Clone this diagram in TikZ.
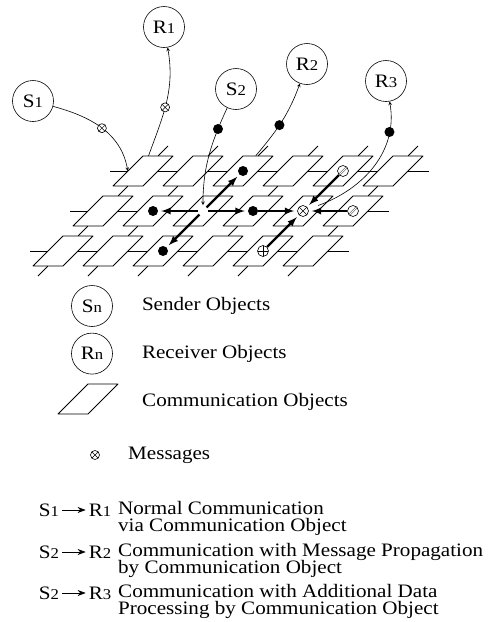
\documentclass[tikz,border=0pt]{standalone}
\usepackage{fontspec}
\setmainfont{Liberation Serif}[FakeStretch=1.11]
\usetikzlibrary{arrows.meta,positioning}
\newcommand{\low}[1]{{\fontsize{15pt}{15pt}\selectfont #1}}

\begin{document}
\begin{tikzpicture}[x=1pt,y=1pt]
\tikzstyle{obj}=[circle, minimum size = 41pt, inner sep=0pt, semithick, draw =black, font=\fontsize{19pt}{19pt}\selectfont]
\tikzstyle{co}=[rectangle, minimum size=30pt, inner sep=0pt]
\tikzstyle{plate}=[thick, line join=round]
\tikzstyle{link}=[thick]
\tikzstyle{msg}=[-stealth, semithick]
\tikzstyle{legarrow}=[-{Stealth[length=8pt, width=6pt]}, semithick, shorten <=2pt, shorten >=2pt]
\tikzstyle{prop}=[-latex, line width=2.2pt, shorten >=3pt]
\tikzstyle{dot}=[circle, fill=black, inner sep=0pt, minimum size=10pt]
\tikzstyle{msgx}=[circle, draw, semithick, fill=white, inner sep=0pt, minimum size=9pt, path picture={\draw[thin] (path picture bounding box.north west) -- (path picture bounding box.south east) (path picture bounding box.north east) -- (path picture bounding box.south west);}]
\tikzstyle{msgplus}=[circle, draw, semithick, fill=white, inner sep=0pt, minimum size=11pt, path picture={\draw[thin] (path picture bounding box.north) -- (path picture bounding box.south) (path picture bounding box.east) -- (path picture bounding box.west);}]
\tikzstyle{msgbar}=[circle, draw, semithick, fill=white, inner sep=0pt, minimum size=11pt, path picture={\draw[thin, double, double distance=1.3pt] (path picture bounding box.south west) -- (path picture bounding box.north east);}]
\tikzstyle{legend}=[anchor=west, align=left, inner sep=0pt, font=\fontsize{19pt}{17.5pt}\selectfont]
\tikzstyle{lab}=[inner sep=1pt, font=\fontsize{19pt}{19pt}\selectfont]
\useasboundingbox (0,0) rectangle (498,-622);

  % communication objects
  \foreach \r in {0,1,2}
    \foreach \c in {0,...,5} {
      \node[co] (co-\r-\c) at (143+50*\c-40*\r, -171-40*\r) {};
      \draw[plate] ([shift={(0,15)}]co-\r-\c.center) -- ++(30,0) -- ++(-30,-30) -- ++(-30,0) -- cycle;
    }
  \foreach \r in {0,1,2} {
    \foreach \c [evaluate=\c as \n using int(\c+1)] in {0,...,4}
      \draw[link] (co-\r-\c) -- (co-\r-\n);
    \draw[link] (co-\r-0) -- ++(-33,0);
    \draw[link] (co-\r-5) -- ++(36,0);
  }
  \foreach \c in {0,...,5} {
    \draw[link] (co-0-\c) -- (co-1-\c);
    \draw[link] (co-1-\c) -- (co-2-\c);
    \draw[link] (co-0-\c) -- ++(25,25);
    \draw[link] (co-2-\c) -- ++(-25,-25);
  }

  % senders and receivers
  \node[obj] (S1) at (33,-101) {S\low{1}};
  \node[obj] (R1) at (164,-27) {R\low{1}};
  \node[obj] (S2) at (236,-89) {S\low{2}};
  \node[obj] (R2) at (307,-64) {R\low{2}};
  \node[obj] (R3) at (386,-81) {R\low{3}};

  \draw[msg] (S1) to[out=-15, in=100] node[msgx, pos=0.5] (m1) {} (co-0-0.west);
  \draw[msg] (co-0-0) to[out=70, in=-80] node[msgx, pos=0.45] (m2) {} (R1);
  \draw[msg, shorten >=6pt] (S2) to[out=-115, in=90] node[dot, pos=0.2] (m3) {} (co-1-2.center);
  \draw[msg] (co-0-2) to[out=50, in=-110] node[dot, pos=0.45] (m4) {} (R2);
  \draw[msg] (co-1-4) to[out=20, in=-80] node[dot, pos=0.78] (m5) {} (R3);

  % propagation and processing
  \node[dot] (d-l) at (co-1-1) {};
  \node[dot] (d-r) at (co-1-3) {};
  \node[dot] (d-u) at (co-0-2) {};
  \node[dot] (d-d) at (co-2-2) {};
  \node[msgx, minimum size=11pt] (p-x) at (co-1-4) {};
  \node[msgplus] (p-plus) at (co-2-4) {};
  \node[msgbar] (p-ur) at (co-0-4) {};
  \node[msgbar] (p-r) at (co-1-5) {};
  \path (co-1-2.center) edge [prop, shorten <=5pt] (d-l)
        (co-1-2.center) edge [prop, shorten <=5pt] (d-r)
        (co-1-2.center) edge [prop, shorten <=5pt] (d-u)
        (co-1-2.center) edge [prop, shorten <=5pt] (d-d)
        (d-r) edge [prop] (p-x)
        (p-plus) edge [prop] (p-x)
        (p-ur) edge [prop] (p-x)
        (p-r) edge [prop] (p-x);

  % legend
  \node[obj] (sn) at (92,-306) {S\low{n}};
  \node[legend, right=29pt of sn] (sn-text) {Sender Objects};
  \node[obj, below=6pt of sn] (rn) {R\low{n}};
  \node[legend, right=29pt of rn] (rn-text) {Receiver Objects};
  \node[co] (cn) at (88,-399) {};
  \draw[plate] ([shift={(0,15)}]cn.center) -- ++(30,0) -- ++(-30,-30) -- ++(-30,0) -- cycle;
  \node[legend] (cn-text) at (142,-402) {Communication Objects};
  \node[msgx] (mn) at (95,-455) {};
  \node[legend] (mn-text) at (128,-455) {Messages};

  \node[lab] (ls1) at (49,-510) {S\low{1}};
  \node[lab] (lr1) at (100,-510) {R\low{1}};
  \node[legend] (t1) at (118,-518.5) {Normal Communication\\via Communication Object};
  \node[lab] (ls2) at (49,-552) {S\low{2}};
  \node[lab] (lr2) at (100,-552) {R\low{2}};
  \node[legend] (t2) at (118,-560.5) {Communication with Message Propagation\\by Communication Object};
  \node[lab] (ls3) at (49,-593) {S\low{2}};
  \node[lab] (lr3) at (100,-593) {R\low{3}};
  \node[legend] (t3) at (118,-601.5) {Communication with Additional Data\\Processing by Communication Object};
  \path (ls1) edge [legarrow] (lr1)
        (ls2) edge [legarrow] (lr2)
        (ls3) edge [legarrow] (lr3);
\end{tikzpicture}
\end{document}
